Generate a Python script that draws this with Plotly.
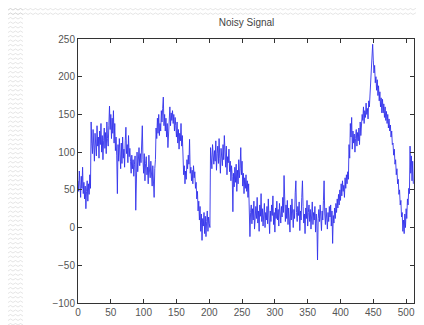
import plotly.graph_objects as go

# ---- data ----
signal = [
    62, 48, 75, 55, 40, 68, 52, 80, 45, 60, 38, 55, 25, 48, 62, 35,
    58, 44, 70, 52, 140, 112, 98, 130, 105, 88, 125, 115, 95, 135, 108, 120,
    92, 128, 110, 138, 100, 122, 90, 115, 132, 105, 126, 98, 140, 118, 108, 135,
    161, 130, 150, 118, 145, 125, 155, 112, 138, 102, 120, 95, 45, 110, 88, 118,
    96, 78, 112, 85, 120, 92, 104, 80, 115, 133, 98, 110, 86, 122, 94, 105,
    88, 72, 96, 78, 90, 68, 84, 95, 23, 80, 100, 74, 92, 106, 82, 98,
    86, 104, 135, 90, 72, 98, 62, 85, 94, 70, 80, 58, 96, 75, 66, 88,
    72, 55, 82, 60, 40, 78, 90, 132, 118, 145, 125, 150, 122, 138, 128, 155,
    140, 158, 173, 135, 150, 128, 145, 120, 138, 106, 132, 148, 160, 135, 152, 142,
    155, 138, 150, 128, 146, 135, 120, 140, 112, 130, 104, 125, 115, 138, 108, 122,
    88, 70, 82, 58, 75, 64, 90, 78, 96, 84, 117, 72, 80, 62, 76, 58,
    82, 66, 74, 52, 60, 38, 48, 22, 35, 10, 28, -5, 18, -17, 12, 2,
    20, -8, 15, -12, 8, 22, -5, 14, 5, 0, 106, 92, 78, 110, 95, 84,
    102, 88, 115, 76, 98, 108, 85, 118, 92, 72, 105, 96, 82, 110, 90, 122,
    98, 80, 108, 70, 94, 86, 104, 74, 88, 62, 82, 68, 21, 72, 54, 80,
    60, 84, 48, 76, 58, 90, 66, 78, 106, 70, 88, 55, 72, 45, 66, 52,
    70, 48, 62, 40, 58, 8, -12, 20, 30, 5, 25, 10, 35, -2, 18, 28,
    12, 40, 6, 22, -5, 30, 15, 45, 8, 25, 2, 18, 32, 0, 20, 10,
    28, 5, 38, 14, -8, 22, 8, 30, 16, 42, 4, 20, -6, 26, 12, 35,
    10, 24, 2, 32, 18, 6, 28, 14, 40, 20, 69, 22, 8, 30, 12, 36,
    4, 26, 15, -6, 30, 10, 38, 18, 0, 24, 12, 46, 62, 20, 8, 28,
    16, 34, -4, 22, 10, 40, 62, 28, 6, 18, -8, 26, 12, 36, 2, 20,
    30, 8, 24, -2, 14, 34, 4, 20, 10, 28, -6, 18, 6, -43, 12, 24,
    8, 30, 14, -4, 22, 10, 36, 62, 18, 4, 26, 12, -2, 20, 8, 28,
    14, 30, 2, 22, -21, 16, 6, 26, 12, 32, 20, 38, 26, 44, 30, 50,
    36, 58, 42, 62, 48, 56, 40, 66, 52, 70, 58, 74, 64, 110, 92, 138,
    120, 146, 104, 128, 112, 124, 100, 118, 130, 108, 126, 115, 132, 110, 140, 122,
    136, 150, 142, 160, 138, 155, 146, 165, 150, 158, 144, 168, 160, 175, 190, 210,
    228, 243, 222, 205, 215, 192, 200, 182, 196, 175, 188, 168, 180, 160, 172, 152,
    170, 152, 164, 146, 160, 142, 154, 138, 150, 132, 144, 128, 136, 120, 128, 110,
    112, 96, 104, 84, 90, 70, 78, 58, 64, 44, 50, 30, 36, 14, 20, -5,
    10, -8, 18, 0, 25, 12, 38, 30, 52, 45, 108, 72, 95, 62, 88, 58,
]
sample_index = list(range(len(signal)))

x_ticks = [0, 50, 100, 150, 200, 250, 300, 350, 400, 450, 500]
y_ticks = [-100, -50, 0, 50, 100, 150, 200, 250]
title_text = "Noisy Signal"

# ---- figure ----
fig = go.Figure()
fig.add_trace(go.Scatter(
    x=sample_index, y=signal, mode="lines",
    line=dict(color="rgb(50,50,235)", width=0.9),
    hoverinfo="skip", showlegend=False,
))

# faint zig-zag background decoration (slide background)
W, H = 336.0, 264.0
L, T = 70.0, 31.0
def px(xp):
    return (xp - L) / W
def py(yp):
    return (T + H - yp) / H

path = ""
yy = 2.0
while yy < 325:
    seg = "M %.4f %.4f" % (px(0), py(yy))
    xx = 0.0
    up = True
    while xx < 15:
        xx += 2.5
        seg += " L %.4f %.4f" % (px(xx), py(yy - 1.5 if up else yy))
        up = not up
    path += seg + " "
    yy += 4.5
# top rows
for yy in (2.0, 6.5):
    seg = "M %.4f %.4f" % (px(0), py(yy))
    xx = 0.0
    up = True
    while xx < 424:
        xx += 2.5
        seg += " L %.4f %.4f" % (px(xx), py(yy - 1.5 if up else yy))
        up = not up
    path += seg + " "

fig.add_shape(type="path", path=path, xref="paper", yref="paper",
              line=dict(color="rgba(200,200,200,0.6)", width=0.8), layer="below")

axis_common = dict(
    showgrid=False, zeroline=False, showline=True, linecolor="#333",
    linewidth=1, mirror="ticks", ticks="inside", ticklen=4, tickcolor="#333",
    tickfont=dict(family="Liberation Sans, Arial", size=10, color="#555"),
)

fig.update_layout(
    width=424, height=325,
    margin=dict(l=70, r=18, t=31, b=30),
    paper_bgcolor="white", plot_bgcolor="white",
    title=dict(text=title_text, x=0.5625, xanchor="center", y=0.955, yanchor="middle",
               font=dict(family="Liberation Sans, Arial", size=10, color="#444")),
    xaxis=dict(range=[0, 512], tickvals=x_ticks, **axis_common),
    yaxis=dict(range=[-100, 250], tickvals=y_ticks, **axis_common),
)

fig.write_html("out.html")
